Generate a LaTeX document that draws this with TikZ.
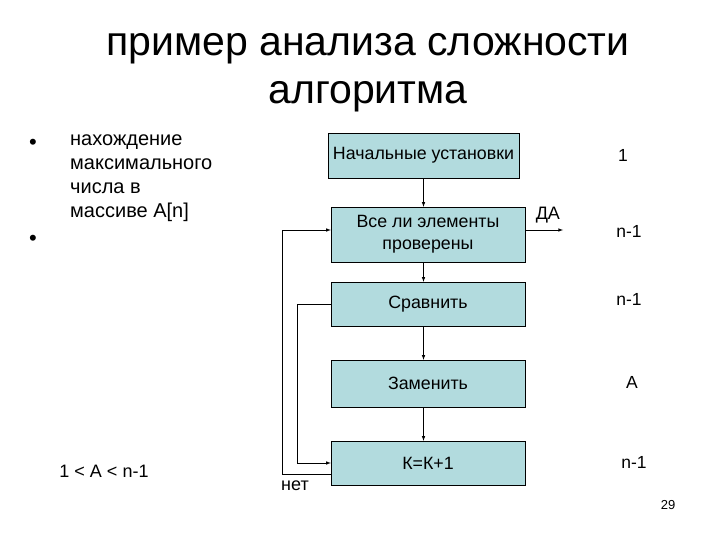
\documentclass[tikz,border=0pt]{standalone}
\usepackage{fontspec}
\setmainfont{Liberation Sans}
\usepackage{tikz}
\usetikzlibrary{arrows,positioning}
\definecolor{boxfill}{RGB}{178,219,222}

\begin{document}
\begin{tikzpicture}[
			x=1pt, y=-1pt,
			box/.style={draw, fill=boxfill, minimum width=194pt, minimum height=44pt, align=center, font=\fontsize{17.8}{22}\selectfont, inner sep=1pt},
			arrow/.style={->, >=latex, semithick},
			plain/.style={font=\fontsize{18}{22}\selectfont},
			cost/.style={font=\fontsize{17.5}{20}\selectfont}
		]
		\useasboundingbox (0,0) rectangle (720,540);

		% title
		\node[font=\fontsize{41}{48}\selectfont, align=center] (title) at (368,73) {пример анализа сложности\\алгоритма};

		% left column
		\node[font=\fontsize{22}{24}\selectfont] (dot1) at (33,144) {•};
		\node[font=\fontsize{22}{24}\selectfont] (dot2) at (33,240) {•};
		\node[anchor=north west, align=left, inner sep=0pt, font=\fontsize{20}{24}\selectfont] (task) at (70,135) {нахождение\\максимального\\числа в\\массиве A[n]};
		\node[plain] (range) at (104,471) {1 < A < n-1};

		% flowchart
		\node[box, minimum width=191pt, minimum height=45pt] (init) at (423.5,155.5) {Начальные установки};
		\node[box, minimum height=55pt] (check) at (428,234.5) {Все ли элементы\\проверены};
		\node[box] (compare) at (428,304) {Сравнить};
		\node[box, minimum height=47pt] (swap) at (428,383.5) {Заменить};
		\node[box] (incr) at (428,463) {К=К+1};
		\coordinate (yes) at (563,230);

		\draw[arrow] (init.south) -- (init.south |- check.north);
		\draw[arrow] (init.south |- check.south) -- (init.south |- compare.north);
		\draw[arrow] (init.south |- compare.south) -- (init.south |- swap.north);
		\draw[arrow] (init.south |- swap.south) -- (init.south |- incr.north);
		\draw[arrow] (check.east |- yes) -- (yes) node[pos=0.6, above=3pt, plain] {ДА};
		\draw[arrow] (compare.west) -- ++(-34,0) |- (incr.west);
		\draw[arrow] ([yshift=-11pt]incr.west) -- ++(-49,0) |- (check.west |- yes);
		\node[plain] (no) at (295,486) {нет};

		% costs
		\node[cost] (c1) at (623,155) {1};
		\node[cost] (c2) at (629,231) {n-1};
		\node[cost] (c3) at (629,299) {n-1};
		\node[cost] (c4) at (632,382) {A};
		\node[cost] (c5) at (634,462) {n-1};
		\node[font=\fontsize{13}{15}\selectfont] (page) at (668,505) {29};

	\end{tikzpicture}
\end{document}
